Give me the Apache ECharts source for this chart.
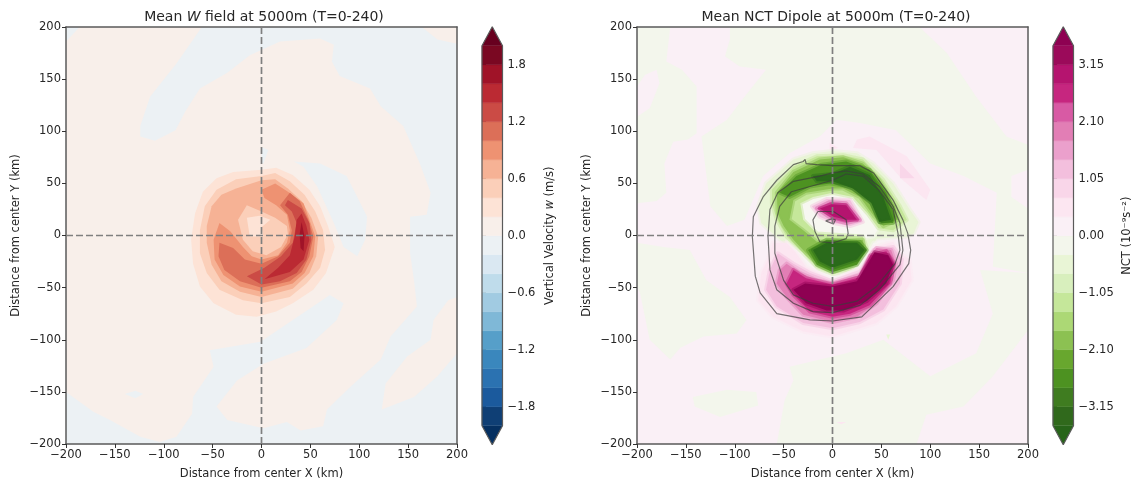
<!DOCTYPE html>
<html><head><meta charset="utf-8">
<style>html,body{margin:0;padding:0;background:#fff}#c{width:1135px;height:483px;filter:blur(0.45px)}</style>
<script src="https://cdn.jsdelivr.net/npm/echarts@6/dist/echarts.min.js"></script>
</head><body><div id="c"></div>
<script>
// ---------- axis ticks ----------
const axisRange = [-200, 200];
const axisStep = 50;
const wBarTicks = [-1.8,-1.2,-0.6,0,0.6,1.2,1.8];
const wBarLabels = ['−1.8','−1.2','−0.6','0.0','0.6','1.2','1.8'];
const nctBarTicks = [-3.15,-2.1,-1.05,0,1.05,2.1,3.15];
const nctBarLabels = ['−3.15','−2.10','−1.05','0.00','1.05','2.10','3.15'];
// ---------- colour bands, low to high ----------
const wBandEdges = [-2,-1.8,-1.6,-1.4,-1.2,-1,-0.8,-0.6,-0.4,-0.2,0,0.2,0.4,0.6,0.8,1,1.2,1.4,1.6,1.8,2];
const wBandColors = ['#0f3f75','#1b5a9d','#2b72b1','#3a87bd','#569fc9','#7fb8d7','#a1cbe2','#bfdceb','#dae8f2','#ecf1f4','#f8efea','#fde3d6','#fbcfb9','#f6b295','#ee9272','#dc6f58','#cb4b45','#bb2a33','#a01328','#7a0822'];
const wUnder = '#053061', wOver = '#67001f';
const nctBandEdges = [-3.5,-3.15,-2.8,-2.45,-2.1,-1.75,-1.4,-1.05,-0.7,-0.35,0,0.35,0.7,1.05,1.4,1.75,2.1,2.45,2.8,3.15,3.5];
const nctBandColors = ['#30691c','#3f7c20','#4d9221','#68a72e','#8cc152','#acd875','#c5e79a','#d8efbd','#e9f5d6','#f3f6ec','#faf0f6','#fce6f1','#f9d6e9','#f3bfdd','#eba0cc','#e27eb5','#d85aa4','#c6267f','#b5146f','#9b0a5a'];
const nctUnder = '#276419', nctOver = '#8e0152';

// ---------- W field: contour outlines, km ----------
const wNegMain = [[-61,200],[-87,165],[-114,133],[-124,105],[-124,95],[-109,91],[-88,101],[-78,119],[-63,141],[-35,156],[-12,173],[19,186],[60,189],[74,183],[72,167],[80,153],[111,141],[122,124],[145,105],[162,69],[173,41],[169,20],[152,18],[152,-17],[156,-43],[159,-68],[132,-97],[122,-119],[91,-145],[67,-167],[63,-183],[40,-187],[26,-179],[2,-185],[-35,-177],[-46,-164],[-25,-139],[2,-123],[46,-108],[77,-81],[84,-65],[70,-57],[-1,-102],[-53,-110],[-49,-126],[-70,-155],[-71,-171],[-87,-193],[-104,-198],[-124,-193],[-155,-177],[-172,-169],[-200,-150],[-200,-200],[200,-200],[200,-113],[180,-135],[156,-155],[123,-167],[127,-142],[149,-116],[173,-100],[176,-81],[191,-62],[200,-59],[200,184],[180,188],[164,200]];
const wNegCorner = [[-200,200],[-186,200],[-200,186]];
const wNegTongue = [[33,71],[60,69],[87,57],[98,37],[108,18],[106,-4],[98,-20],[84,-11],[74,12],[57,47],[43,66]];
const wNegSpotA = [[0,85],[7,82],[2,69],[0,69]];
const wNegSpotB = [[-140,-152],[-129,-149],[-121,-152],[-129,-156]];
const wLevel02 = [[-29,61],[0,63],[15,65],[32,58],[49,44],[60,28],[68,9],[75,-11],[66,-36],[53,-52],[32,-65],[15,-73],[-5,-78],[-26,-76],[-49,-65],[-63,-49],[-70,-27],[-72,-4],[-68,21],[-60,42],[-46,55]];
const wLevel04 = [[-26,54],[0,57],[14,60],[29,52],[44,39],[55,23],[63,5],[65,-14],[60,-31],[46,-46],[29,-59],[0,-65],[-19,-62],[-43,-52],[-56,-36],[-63,-17],[-63,5],[-58,28],[-46,44]];
const wLevel06 = [[-26,45],[0,53],[14,54],[27,45],[41,33],[51,17],[58,-1],[56,-20],[49,-36],[32,-51],[0,-59],[-22,-54],[-41,-44],[-51,-28],[-56,-7],[-56,9],[-51,28],[-41,39]];
const wEyeOuter = [[-15,29],[0,23],[14,17],[26,9],[27,1],[20,-11],[5,-19],[-9,-15],[-19,-4],[-24,15]];
const wEyeInner = [[-15,17],[-2,19],[9,15],[0,8],[2,-1],[-12,-1]];
const wLevel08 = [[0,44],[14,50],[27,42],[43,31],[49,15],[55,-1],[53,-20],[44,-36],[32,-46],[0,-54],[-22,-49],[-39,-38],[-48,-23],[-49,-4],[-43,12],[-32,4],[-19,-11],[-10,-20],[0,-23],[17,-19],[26,-7],[29,5],[26,20],[15,29],[3,36]];
const wLevel10 = [[29,41],[39,33],[48,15],[53,-1],[49,-20],[41,-35],[29,-44],[0,-50],[-22,-44],[-38,-33],[-44,-20],[-43,-7],[-29,-12],[-17,-23],[0,-27],[17,-20],[29,-7],[31,5],[27,20],[19,29]];
const wLevel12 = [[27,34],[41,26],[49,12],[51,-4],[46,-23],[36,-36],[19,-44],[0,-47],[-15,-39],[3,-31],[20,-20],[32,-7],[36,12],[31,23],[24,29]];
const wLevel14 = [[41,21],[46,9],[49,-4],[43,-23],[29,-35],[3,-42],[17,-31],[29,-19],[34,-1],[36,15]];
const wLevel16 = [[41,13],[44,-1],[43,-15],[40,-12],[39,1]];

// ---------- NCT field: contour outlines, km ----------
const nctNegA = [[-200,200],[-166,200],[-170,167],[-154,159],[-139,143],[-139,98],[-148,92],[-163,90],[-172,69],[-170,41],[-180,33],[-200,31],[-200,114],[-187,122],[-177,146],[-180,159],[-192,154],[-200,143]];
const nctNegB = [[-105,200],[89,200],[117,175],[147,133],[178,95],[200,87],[200,63],[183,57],[183,37],[200,26],[200,-36],[164,-30],[168,41],[134,57],[100,69],[65,101],[28,108],[4,111],[-13,95],[-44,79],[-71,57],[-90,15],[-108,9],[-125,28],[-134,95],[-108,111],[-90,133],[-68,159],[-95,162],[-110,172],[-105,188]];
const nctNegC = [[-200,-7],[-173,-11],[-146,-14],[-129,-43],[-105,-59],[-88,-81],[-98,-94],[-132,-97],[-156,-108],[-166,-119],[-187,-100],[-197,-55],[-200,-49]];
const nctNegD = [[200,-36],[200,-91],[164,-135],[134,-164],[96,-172],[86,-200],[-57,-200],[-49,-158],[-40,-139],[-44,-126],[14,-113],[52,-100],[100,-135],[147,-113],[164,-75],[151,-33]];
const nctNegE = [[-143,-155],[-108,-148],[-78,-150],[-76,-163],[-115,-174],[-141,-164]];
const nctNegSpot = [[55,-95],[59,-95],[57,-100]];
const nctPosBand = [[21,84],[25,92],[38,95],[76,76],[100,44],[96,34],[72,53],[45,82]];
const nctPosTri = [[69,69],[84,55],[69,55]];
const nctPosDash = [[4,-179],[14,-179],[9,-181]];
const nctPosTip = [[-3,89],[6,84],[-3,82]];
const northA = [[-76,28],[-68,50],[-40,73],[-20,79],[0,81],[25,79],[42,69],[62,50],[79,25],[88,13],[83,2],[77,-1],[45,-3],[38,-17],[25,-31],[0,-41],[-20,-35],[-33,-20],[-50,-7],[-61,2],[-73,12]];
const eyePale = [[-33,29],[-20,37],[1,42],[21,37],[36,21],[47,7],[42,-1],[31,-3],[-16,-1],[-30,13]];
const northB = [[-62,44],[-40,66],[-16,76],[11,77],[31,73],[52,53],[69,28],[76,15],[62,5],[47,7],[36,21],[21,37],[0,41],[-20,37],[-33,31],[-30,15],[-16,2],[31,-1],[36,-14],[21,-30],[0,-38],[-18,-31],[-30,-17],[-47,-1],[-57,15],[-62,31]];
const northC = [[-57,41],[-40,61],[-13,73],[11,75],[31,69],[48,53],[64,28],[67,15],[52,9],[43,18],[28,37],[11,45],[0,45],[-27,41],[-40,34],[-44,15],[-30,5],[-16,-6],[31,-4],[33,-14],[18,-28],[0,-33],[-15,-27],[-27,-17],[-40,-4],[-50,9],[-56,21]];
const northD = [[-54,41],[-37,57],[-11,68],[14,71],[38,63],[55,41],[64,18],[62,12],[50,12],[38,34],[18,47],[-3,50],[-23,47],[-44,37]];
const northE = [[-20,57],[0,59],[18,66],[38,58],[52,37],[60,15],[48,13],[40,31],[21,45],[0,52],[-16,52]];
const rimPale = [[-47,-6],[-33,-17],[-16,-33],[0,-39],[25,-35],[36,-17],[42,-7],[62,-6],[65,-14],[45,-23],[31,-43],[0,-49],[-27,-46],[-47,-27]];
const southA = [[-61,-7],[-47,-7],[-37,-17],[-27,-30],[0,-43],[31,-30],[42,-11],[62,-6],[69,-17],[79,-23],[81,-43],[65,-68],[45,-84],[28,-89],[0,-97],[-30,-92],[-61,-78],[-76,-62],[-73,-36],[-66,-23]];
const southB = [[-56,-17],[-40,-27],[-23,-36],[0,-44],[28,-35],[42,-14],[62,-11],[71,-23],[69,-46],[52,-71],[28,-83],[0,-89],[-30,-84],[-57,-68],[-68,-52],[-64,-33]];
const southC = [[-47,-27],[-33,-36],[-16,-43],[0,-46],[28,-38],[38,-20],[45,-12],[60,-14],[65,-27],[62,-43],[45,-65],[25,-78],[0,-83],[-30,-76],[-47,-59],[-57,-46],[-54,-33]];
const southD = [[-40,-33],[-27,-41],[0,-47],[28,-40],[39,-19],[55,-15],[63,-27],[59,-46],[38,-67],[18,-75],[0,-78],[-23,-73],[-40,-57],[-47,-46]];
const southE = [[-28,-46],[0,-49],[25,-44],[36,-27],[43,-16],[57,-19],[62,-28],[55,-46],[35,-63],[11,-72],[-6,-72],[-27,-65],[-40,-52]];
const innerLobeA = [[-25,-14],[-6,-4],[28,-6],[35,-14],[25,-28],[0,-35],[-16,-28]];
const innerLobeB = [[-20,-14],[-6,-7],[25,-7],[33,-14],[25,-23],[0,-31],[-13,-25]];
const eyePosA = [[-21,28],[-6,35],[18,34],[31,13],[18,9],[1,12],[-13,18]];
const eyePosB = [[-16,26],[-3,32],[14,31],[28,15],[14,12],[1,15]];
const eyePosC = [[-13,26],[-1,30],[14,29],[25,15],[14,15],[1,18]];
// ---------- overlaid W contour lines on the NCT panel, km ----------
const lineA = [[-28,73],[-27,69],[-16,68],[0,67],[28,67],[42,60],[62,34],[72,15],[77,2],[80,-14],[78,-27],[62,-49],[30,-78],[0,-82],[-23,-81],[-57,-75],[-74,-55],[-79,-39],[-82,-1],[-81,18],[-71,37],[-57,53],[-40,68],[-30,71],[-28,73]];
const lineB = [[0,60],[14,62],[31,59],[48,47],[62,28],[69,12],[72,-14],[69,-28],[48,-52],[28,-67],[0,-74],[-20,-73],[-40,-65],[-57,-52],[-64,-33],[-66,-1],[-64,25],[-56,41],[-40,52],[-13,57],[0,60]];
const lineC = [[0,53],[14,59],[31,57],[47,44],[62,25],[67,2],[69,-14],[64,-27],[45,-49],[25,-63],[0,-68],[-20,-65],[-40,-57],[-50,-43],[-59,-17],[-59,9],[-54,28],[-42,42],[-23,47],[0,53]];
const lineD = [[-15,23],[1,23],[14,15],[16,2],[14,-3],[1,-7],[-13,-6],[-18,4],[-20,15],[-15,23]];
const lineE = [[-7,14],[-1,16],[3,15],[1,11],[-1,11],[-7,14]];
const crossH = [[-200,0],[200,0]];
const crossV = [[0,-200],[0,200]];

const wBase = wBandColors[10], nctBase = nctBandColors[10];
const wc = i => wBandColors[i], nc = i => nctBandColors[i];
const wLayers = [
 [wNegMain,wc(9)],[wNegCorner,wc(9)],[wNegTongue,wc(9)],[wNegSpotA,wc(9)],[wNegSpotB,wc(9)],
 [wLevel02,wc(11)],[wLevel04,wc(12)],[wLevel06,wc(13)],[wEyeOuter,wc(12)],[wEyeInner,wc(11)],
 [wLevel08,wc(14)],[wLevel10,wc(15)],[wLevel12,wc(16)],[wLevel14,wc(17)],[wLevel16,wc(18)]
];
const nctLayers = [
 [nctNegA,nc(9)],[nctNegB,nc(9)],[nctNegC,nc(9)],[nctNegD,nc(9)],[nctNegE,nc(9)],[nctNegSpot,nc(8)],
 [nctPosBand,nc(11)],[nctPosTri,nc(12)],[nctPosDash,nc(11)],[nctPosTip,nc(11)],
 [northA,nc(8),1],[eyePale,'#f7f7f1',1],[northB,nc(6),1],[northC,nc(4),1],[northD,nc(2),1],[northE,'#2a6a1b',1],
 [rimPale,'#f8f4f3',1],[southA,nc(11),1],[southB,nc(13),1],[southC,nc(15),1],[southD,nc(17),1],[southE,nctOver,1],
 [innerLobeA,nc(2),1],[innerLobeB,'#2a6a1b',1],[eyePosA,nc(13),1],[eyePosB,nc(16),1],[eyePosC,nc(18),1]
];
const contourLines = [lineA,lineB,lineC,lineD,lineE];

const FONT = '"DejaVu Sans"';
const TXT = '#262626', SPINE = '#5a5a5a';
const minusFmt = v => String(v).replace('-', '−');
const soften = hex => { const n=parseInt(hex.slice(1),16); return `rgba(${n>>16},${(n>>8)&255},${n&255},0.45)`; };

function fieldSeries(layers, gi) {
  return {
    type:'custom', xAxisIndex:gi, yAxisIndex:gi, clip:true, silent:true, z:2,
    data: layers.map((l,i)=>[0,0,i]),
    renderItem:(p,api)=>{
      const l = layers[api.value(2)];
      const style = l[2] ? {fill:l[1], stroke:soften(l[1]), lineWidth:4, lineJoin:'round'} : {fill:l[1], stroke:null};
      return {type:'polygon', shape:{points:l[0].map(c=>api.coord(c))}, style};
    }
  };
}
function crossSeries(gi) {
  return [crossH,crossV].map(d=>({type:'line', xAxisIndex:gi, yAxisIndex:gi, data:d, showSymbol:false, silent:true, z:6,
    lineStyle:{color:'#7f7f7f', width:1.7, type:[7,3]}}));
}
function barSeries(gi, edges, colors, under, over, ext) {
  const lo = edges[0], hi = edges[edges.length-1];
  const outline = [[0,lo],[0,hi],[0.5,ext],[1,hi],[1,lo],[0.5,-ext],[0,lo]];
  return [{
    type:'custom', xAxisIndex:gi, yAxisIndex:gi, clip:false, silent:true, z:2,
    data: colors.map((c,i)=>[0,edges[i],i]).concat([[0,lo,-1],[0,hi,-2]]),
    renderItem:(p,api)=>{
      const i = api.value(2);
      if (i===-1) return {type:'polygon',shape:{points:[api.coord([0,lo]),api.coord([1,lo]),api.coord([0.5,-ext])]},style:{fill:under}};
      if (i===-2) return {type:'polygon',shape:{points:[api.coord([0,hi]),api.coord([1,hi]),api.coord([0.5,ext])]},style:{fill:over}};
      const a = api.coord([0,edges[i]]), b = api.coord([1,edges[i+1]]);
      return {type:'rect',shape:{x:a[0],y:b[1],width:b[0]-a[0],height:a[1]-b[1]},style:{fill:colors[i],stroke:colors[i],lineWidth:0.5}};
    }
  },{
    type:'line', xAxisIndex:gi, yAxisIndex:gi, data:outline, showSymbol:false, silent:true, z:4,
    lineStyle:{color:SPINE,width:1.2}
  }];
}
const plotX = (name,gi)=>({gridIndex:gi,type:'value',min:axisRange[0],max:axisRange[1],interval:axisStep,z:5,
  name,nameLocation:'middle',nameGap:24,nameTextStyle:{fontFamily:FONT,fontSize:11.5,color:TXT},
  axisLine:{onZero:false,lineStyle:{color:SPINE,width:1.5}},axisTick:{length:4,lineStyle:{color:'#333',width:1}},
  axisLabel:{fontFamily:FONT,fontSize:11.5,color:TXT,margin:5,formatter:minusFmt,showMinLabel:true,showMaxLabel:true,hideOverlap:false},splitLine:{show:false}});
const plotY = (name,gi)=>({gridIndex:gi,type:'value',min:axisRange[0],max:axisRange[1],interval:axisStep,z:5,
  name,nameLocation:'middle',nameGap:44,nameRotate:90,nameTextStyle:{fontFamily:FONT,fontSize:11.5,color:TXT},
  axisLine:{onZero:false,lineStyle:{color:SPINE,width:1.5}},axisTick:{length:4,lineStyle:{color:'#333',width:1}},
  axisLabel:{fontFamily:FONT,fontSize:11.5,color:TXT,margin:5,formatter:minusFmt,showMinLabel:true,showMaxLabel:true,hideOverlap:false},splitLine:{show:false}});
const spineX = gi=>({gridIndex:gi,type:'value',min:axisRange[0],max:axisRange[1],position:'top',z:5,
  axisLine:{show:true,onZero:false,lineStyle:{color:SPINE,width:1.5}},axisTick:{show:false},axisLabel:{show:false},splitLine:{show:false}});
const spineY = gi=>({gridIndex:gi,type:'value',min:axisRange[0],max:axisRange[1],position:'right',z:5,
  axisLine:{show:true,onZero:false,lineStyle:{color:SPINE,width:1.5}},axisTick:{show:false},axisLabel:{show:false},splitLine:{show:false}});
const barX = gi=>({gridIndex:gi,type:'value',min:0,max:1,show:false});
const barY = (gi,ext,ticks,labels,name,gap)=>({gridIndex:gi,type:'value',min:-ext,max:ext,position:'right',
  axisLine:{show:false},splitLine:{show:false},
  axisTick:{show:true,length:4,customValues:ticks,lineStyle:{color:'#333',width:1}},
  axisLabel:{show:true,customValues:ticks,fontFamily:FONT,fontSize:11.5,color:TXT,margin:5,
    formatter:v=>labels[ticks.findIndex(t=>Math.abs(t-v)<1e-6)]},
  name,nameLocation:'middle',nameGap:gap,nameRotate:90,
  nameTextStyle:{fontFamily:FONT,fontSize:11.5,color:TXT,rich:{t:{fontFamily:FONT,fontSize:11.5,color:TXT},i:{fontFamily:FONT,fontSize:11.5,color:TXT,fontStyle:'italic'}}}});

const option = {
  animation:false, backgroundColor:'#fff',
  title:[
    {left:259,top:5,textAlign:'center',text:'{a|Mean }{i|W}{a| field at 5000m (T=0-240)}',
     textStyle:{fontWeight:'normal',rich:{a:{fontFamily:FONT,fontSize:14,fontWeight:'normal',color:TXT},i:{fontFamily:FONT,fontSize:14,fontWeight:'normal',color:TXT,fontStyle:'italic'}}}},
    {left:831,top:5,textAlign:'center',text:'Mean NCT Dipole at 5000m (T=0-240)',
     textStyle:{fontFamily:FONT,fontSize:14,fontWeight:'normal',color:TXT}}
  ],
  grid:[
    {left:66,top:27,width:391,height:417,show:true,backgroundColor:wBase,borderWidth:0,outerBoundsMode:'none'},
    {left:637,top:27,width:391,height:417,show:true,backgroundColor:nctBase,borderWidth:0,outerBoundsMode:'none'},
    {left:482,top:26.7,width:20.5,height:418,outerBoundsMode:'none'},
    {left:1053,top:26.7,width:20.5,height:418,outerBoundsMode:'none'}
  ],
  xAxis:[plotX('Distance from center X (km)',0),plotX('Distance from center X (km)',1),barX(2),barX(3),spineX(0),spineX(1)],
  yAxis:[plotY('Distance from center Y (km)',0),plotY('Distance from center Y (km)',1),
    barY(2,2.2,wBarTicks,wBarLabels,'{t|Vertical Velocity }{i|w}{t| (m/s)}',42),
    barY(3,3.85,nctBarTicks,nctBarLabels,'NCT (10⁻⁹s⁻²)',48),
    spineY(0),spineY(1)],
  series:[
    fieldSeries(wLayers,0),
    fieldSeries(nctLayers,1),
    ...contourLines.map(d=>({type:'line',xAxisIndex:1,yAxisIndex:1,data:d,showSymbol:false,silent:true,z:4,
      lineStyle:{color:'#3c3c3c',width:1.2,opacity:0.7}})),
    ...crossSeries(0),...crossSeries(1),
    ...barSeries(2,wBandEdges,wBandColors,wUnder,wOver,2.2),
    ...barSeries(3,nctBandEdges,nctBandColors,nctUnder,nctOver,3.85)
  ]
};
echarts.init(document.getElementById('c'),null,{renderer:'canvas'}).setOption(option);
</script></body></html>
